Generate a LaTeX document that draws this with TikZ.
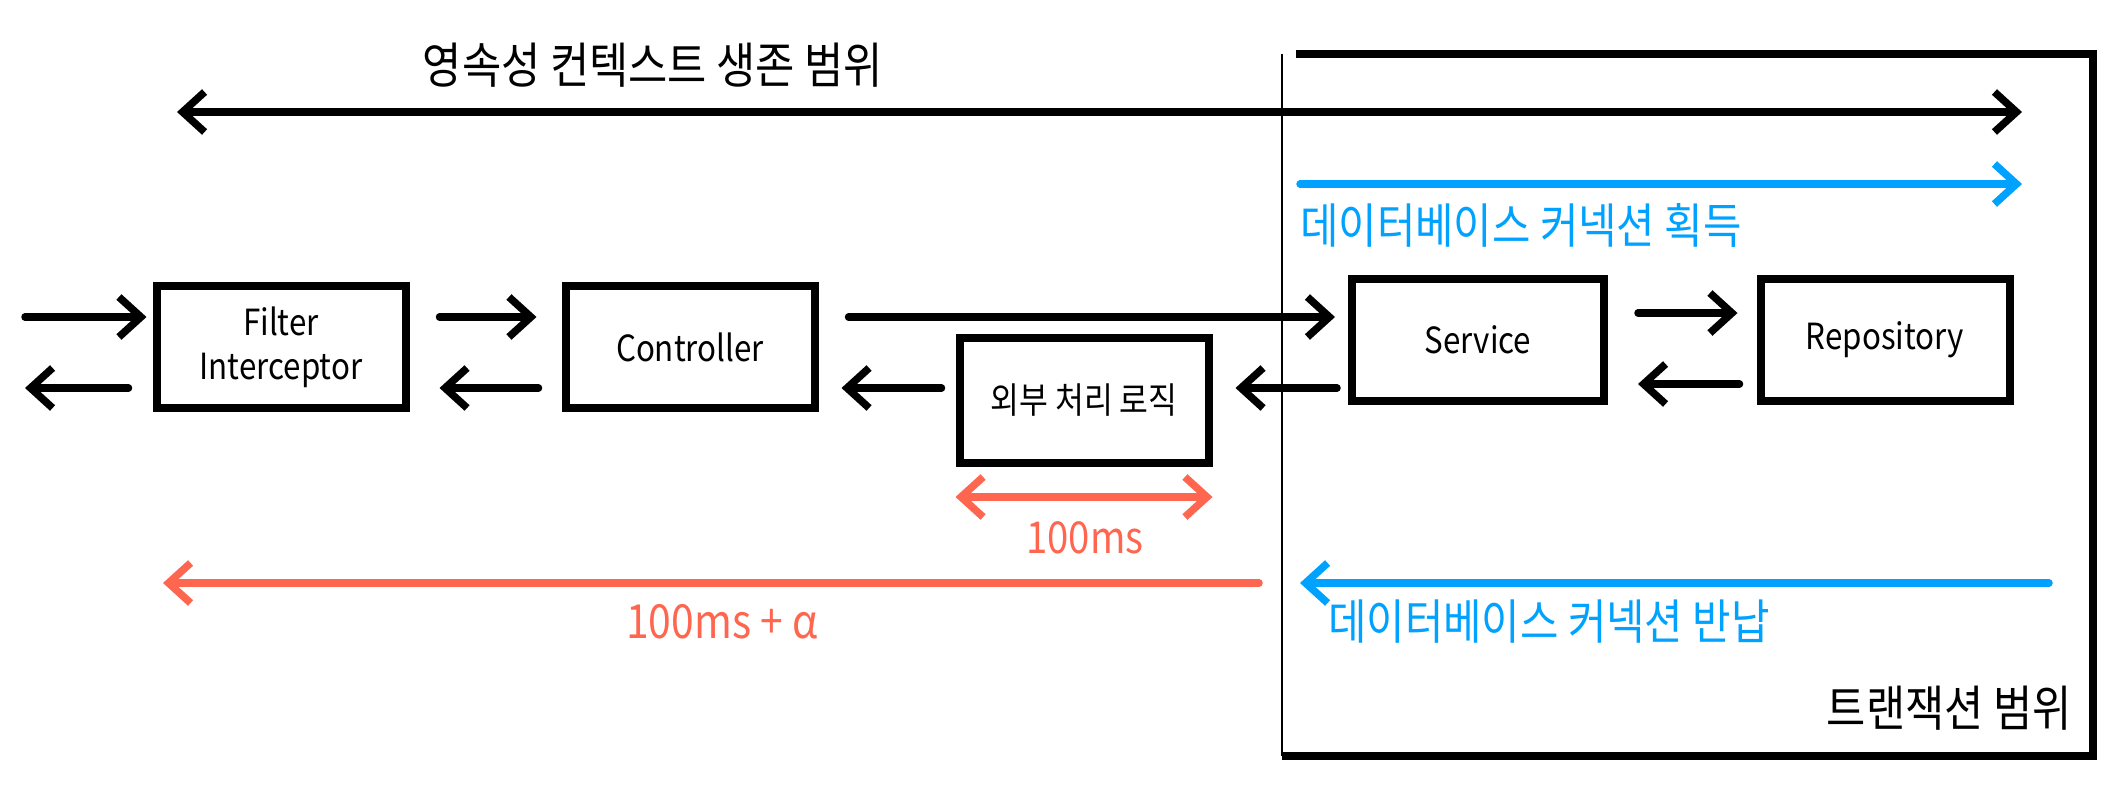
\documentclass[tikz,border=0pt]{standalone}
\usepackage{fontspec}
\setmainfont{Noto Sans CJK KR}[FakeStretch=0.87]
\usetikzlibrary{arrows.meta,calc}
\definecolor{dbblue}{HTML}{00A2FF}
\definecolor{msred}{HTML}{FF6650}
\newcommand{\fsz}[1]{\fontsize{#1}{#1}\selectfont}
\tikzset{
  box/.style={draw=black, line width=8pt, minimum width=249pt, minimum height=122pt, inner sep=0pt, align=center, font=\fsz{36}},
  arr/.style={line width=7.5pt, line cap=round, -{Straight Barb[length=22pt,width=40pt,line width=7.5pt]}},
  darr/.style={line width=7.5pt, line cap=round, {Straight Barb[length=22pt,width=40pt,line width=7.5pt]}-{Straight Barb[length=22pt,width=40pt,line width=7.5pt]}},
  lbl/.style={inner sep=0pt},
}
\begin{document}
\begin{tikzpicture}[x=1pt,y=-1pt]
\useasboundingbox[fill=white] (0,0) rectangle (2124,784);
% transaction frame
\coordinate (tl) at (1282,54);
\coordinate (tr) at (2093,54);
\coordinate (br) at (2093,756);
\coordinate (bl) at (1282,756);
\draw[line width=2.5pt] (tl) -- (bl);
\draw[line width=8pt] ([xshift=14pt]tl) -- (tr) -- (br) -- (bl);
\node[lbl, anchor=east, font=\fsz{49}] (txl) at (2072,708) {트랜잭션 범위};
% title and scope arrow
\node[lbl, font=\fsz{49}] (title) at (653,65) {영속성 컨텍스트 생존 범위};
\coordinate (pcL) at (177,112);
\coordinate (pcR) at (2022,112);
\draw[darr] (pcL) -- (pcR);
% db connection acquire
\coordinate (acqL) at (1300,184);
\coordinate (acqR) at (2022,184);
\draw[arr, dbblue] (acqL) -- (acqR);
\node[lbl, anchor=west, text=dbblue, font=\fsz{48}] (acqT) at (1300,225) {데이터베이스 커넥션 획득};
% boxes
\node[box] (filter) at (281,347) {Filter\\[8pt]Interceptor};
\node[box] (ctrl) at (690,347) {Controller};
\node[box, minimum height=125pt] (ext) at (1084,400) {외부 처리 로직};
\node[box, minimum width=252pt] (svc) at (1478,340) {Service};
\node[box] (repo) at (1885,340) {Repository};
% left in/out
\coordinate (inA) at (25,317);
\coordinate (outA) at (25,388);
\draw[arr, shorten >=6pt] (inA) -- (filter.west |- inA) ;
\draw[arr, shorten <=24pt] (filter.west |- outA) -- (outA);
% filter <-> controller
\draw[arr, shorten <=30pt, shorten >=25pt] (filter.east |- inA) -- (ctrl.west |- inA);
\draw[arr, shorten <=23pt, shorten >=30pt] (ctrl.west |- outA) -- (filter.east |- outA);
% controller -> service
\draw[arr, shorten <=30pt, shorten >=13pt] (ctrl.east |- inA) -- (svc.west |- inA);
% ext -> controller, service -> ext
\draw[arr, shorten <=14pt, shorten >=23pt] (ext.west |- outA) -- (ctrl.east |- outA);
\draw[arr, shorten <=11pt, shorten >=23pt] (svc.west |- outA) -- (ext.east |- outA);
% service <-> repository
\coordinate (srU) at (0,313);
\coordinate (srD) at (0,384);
\draw[arr, shorten <=30pt, shorten >=19pt] (svc.east |- srU) -- (repo.west |- srU);
\draw[arr, shorten <=17pt, shorten >=30pt] (repo.west |- srD) -- (svc.east |- srD);
% 100ms
\coordinate (mr) at (0,497);
\draw[darr, msred] (ext.west |- mr) -- (ext.east |- mr);
\node[lbl, text=msred, font=\fsz{44}] (ms) at (1085,538) {100ms};
% 100ms + alpha
\coordinate (raR) at (1259,583);
\coordinate (raL) at (163,583);
\draw[arr, msred] (raR) -- (raL);
\node[lbl, text=msred, font=\fsz{47}] (msa) at (722,622) {100ms + α};
% db connection release
\coordinate (relR) at (2049,583);
\coordinate (relL) at (1300,583);
\draw[arr, dbblue] (relR) -- (relL);
\node[lbl, anchor=west, text=dbblue, font=\fsz{48}] (relT) at (1328,622) {데이터베이스 커넥션 반납};
\end{tikzpicture}
\end{document}
